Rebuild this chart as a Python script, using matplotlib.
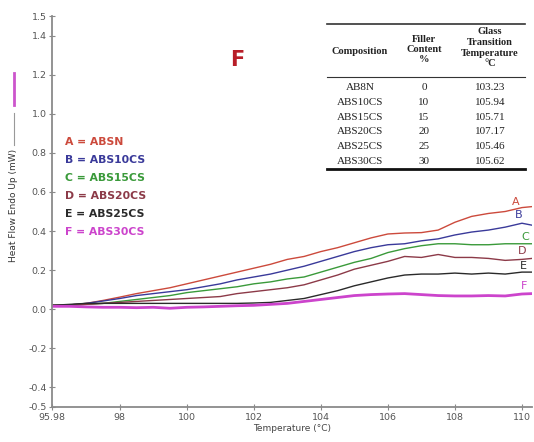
import matplotlib
matplotlib.use('Agg')
import matplotlib.pyplot as plt
from matplotlib.lines import Line2D

# temperature grid (degC) and heat flow (mW) for each sample
temp = [95.98, 96.5, 97, 97.5, 98, 98.5, 99, 99.5, 100, 100.5, 101, 101.5, 102, 102.5, 103,
        103.5, 104, 104.5, 105, 105.5, 106, 106.5, 107, 107.5, 108, 108.5, 109, 109.5, 110, 110.3]
absn = [0.020, 0.022, 0.030, 0.045, 0.062, 0.080, 0.095, 0.110, 0.130, 0.150, 0.170, 0.190, 0.210, 0.230, 0.255,
        0.270, 0.295, 0.315, 0.340, 0.365, 0.385, 0.390, 0.392, 0.405, 0.445, 0.475, 0.490, 0.500, 0.520, 0.525]
abs10 = [0.020, 0.022, 0.030, 0.042, 0.055, 0.070, 0.080, 0.090, 0.100, 0.115, 0.130, 0.150, 0.165, 0.180, 0.200,
         0.220, 0.245, 0.270, 0.295, 0.315, 0.330, 0.335, 0.350, 0.360, 0.380, 0.395, 0.405, 0.420, 0.440, 0.430]
abs15 = [0.020, 0.020, 0.025, 0.030, 0.040, 0.050, 0.060, 0.070, 0.085, 0.095, 0.105, 0.115, 0.130, 0.140, 0.155,
         0.165, 0.190, 0.215, 0.240, 0.260, 0.290, 0.310, 0.325, 0.335, 0.335, 0.330, 0.330, 0.335, 0.335, 0.335]
abs20 = [0.020, 0.020, 0.025, 0.030, 0.035, 0.040, 0.045, 0.050, 0.055, 0.060, 0.065, 0.080, 0.090, 0.100, 0.110,
         0.125, 0.150, 0.175, 0.205, 0.225, 0.245, 0.270, 0.265, 0.280, 0.265, 0.265, 0.260, 0.250, 0.255, 0.260]
abs25 = [0.020, 0.025, 0.030, 0.030, 0.030, 0.030, 0.030, 0.030, 0.030, 0.030, 0.030, 0.030, 0.032, 0.035, 0.045,
         0.055, 0.075, 0.095, 0.120, 0.140, 0.160, 0.175, 0.180, 0.180, 0.185, 0.180, 0.185, 0.180, 0.190, 0.190]
abs30 = [0.015, 0.015, 0.012, 0.010, 0.010, 0.008, 0.010, 0.005, 0.010, 0.012, 0.015, 0.018, 0.020, 0.025, 0.030,
         0.040, 0.050, 0.060, 0.070, 0.075, 0.078, 0.080, 0.075, 0.070, 0.068, 0.068, 0.070, 0.068, 0.078, 0.080]

letters = ['A', 'B', 'C', 'D', 'E', 'F']
names = ['ABSN', 'ABS10CS', 'ABS15CS', 'ABS20CS', 'ABS25CS', 'ABS30CS']
series = [absn, abs10, abs15, abs20, abs25, abs30]
colors = ['#cc4a3c', '#3a3a9a', '#3a9a3a', '#8c3a48', '#2a2a2a', '#cc44cc']
widths = [1.0, 1.0, 1.0, 1.0, 1.0, 2.0]
# where the curve letters sit
letter_x = [109.8, 109.9, 110.1, 110.0, 110.05, 110.05]
letter_y = [0.55, 0.48, 0.37, 0.30, 0.22, 0.12]

# table
tbl_comp = ['AB8N', 'ABS10CS', 'ABS15CS', 'ABS20CS', 'ABS25CS', 'ABS30CS']
tbl_filler = ['0', '10', '15', '20', '25', '30']
tbl_tg = ['103.23', '105.94', '105.71', '107.17', '105.46', '105.62']

W, H = 534, 442
fig = plt.figure(figsize=(W / 100, H / 100), dpi=100)
ax = fig.add_axes([52 / W, 35 / H, 480 / W, 391 / H])

for s, c, lw in zip(series, colors, widths):
    ax.plot(temp, s, color=c, lw=lw)
for l, x, y, c in zip(letters, letter_x, letter_y, colors):
    ax.text(x, y, l, color=c, fontsize=8, ha='center', va='center')

ax.set_xlim(95.98, 110.3)
ax.set_ylim(-0.5, 1.5)
ax.set_xticks([95.98, 98, 100, 102, 104, 106, 108, 110])
ax.set_xticklabels(['95.98', '98', '100', '102', '104', '106', '108', '110'])
ax.set_yticks([-0.5, -0.4, -0.2, 0.0, 0.2, 0.4, 0.6, 0.8, 1.0, 1.2, 1.4, 1.5])
ax.set_yticklabels(['-0.5', '-0.4', '-0.2', '0.0', '0.2', '0.4', '0.6', '0.8', '1.0', '1.2', '1.4', '1.5'])
for sp in ['top', 'right']:
    ax.spines[sp].set_visible(False)
for sp in ['left', 'bottom']:
    ax.spines[sp].set_color('#8a8a8a')
    ax.spines[sp].set_linewidth(1.3)
ax.tick_params(direction='inout', length=4, width=0.8, color='#8a8a8a',
               labelsize=6.8, labelcolor='#555555', pad=2)

ax.set_xlabel('Temperature (°C)', fontsize=6.5, color='#444444', labelpad=2)

def fx(x):
    return x / W

def fy(y):
    return 1 - y / H

# y label with the little line marks above it
fig.text(fx(14), fy(205), 'Heat Flow Endo Up (mW)', rotation=90, fontsize=6.5,
         color='#333333', ha='center', va='center')
fig.add_artist(Line2D([fx(14), fx(14)], [fy(73), fy(105)], color='#cc55cc', lw=2))
fig.add_artist(Line2D([fx(14), fx(14)], [fy(113), fy(145)], color='#999999', lw=0.8))

# legend text
for i, (l, n, c) in enumerate(zip(letters, names, colors)):
    fig.text(fx(65), fy(142 + 18 * i), l + ' = ' + n, color=c, fontsize=7.8,
             fontweight='bold', ha='left', va='center')

fig.text(fx(237), fy(60), 'F', color='#b81e28', fontsize=15, fontweight='bold',
         ha='center', va='center')

# composition table
serif = 'Liberation Serif'
col_x = [360, 424, 490]
fig.add_artist(Line2D([fx(327), fx(525)], [fy(24), fy(24)], color='#333333', lw=1.2))
fig.add_artist(Line2D([fx(327), fx(525)], [fy(77), fy(77)], color='#333333', lw=0.8))
fig.add_artist(Line2D([fx(327), fx(525)], [fy(169), fy(169)], color='#111111', lw=2))
hdr = dict(family=serif, fontsize=7.5, fontweight='bold', ha='center', va='center', color='#222222')
fig.text(fx(col_x[0]), fy(52), 'Composition', **hdr)
for j, t in enumerate(['Filler', 'Content', '%']):
    fig.text(fx(col_x[1]), fy(40 + 10 * j), t, **hdr)
for j, t in enumerate(['Glass', 'Transition', 'Temperature', '°C']):
    fig.text(fx(col_x[2]), fy(32 + 10.5 * j), t, **hdr)
cell = dict(family=serif, fontsize=8, ha='center', va='center', color='#222222')
for i in range(len(tbl_comp)):
    y = fy(88 + 14.6 * i)
    fig.text(fx(col_x[0]), y, tbl_comp[i], **cell)
    fig.text(fx(col_x[1]), y, tbl_filler[i], **cell)
    fig.text(fx(col_x[2]), y, tbl_tg[i], **cell)

fig.savefig('out.png', dpi=100)
